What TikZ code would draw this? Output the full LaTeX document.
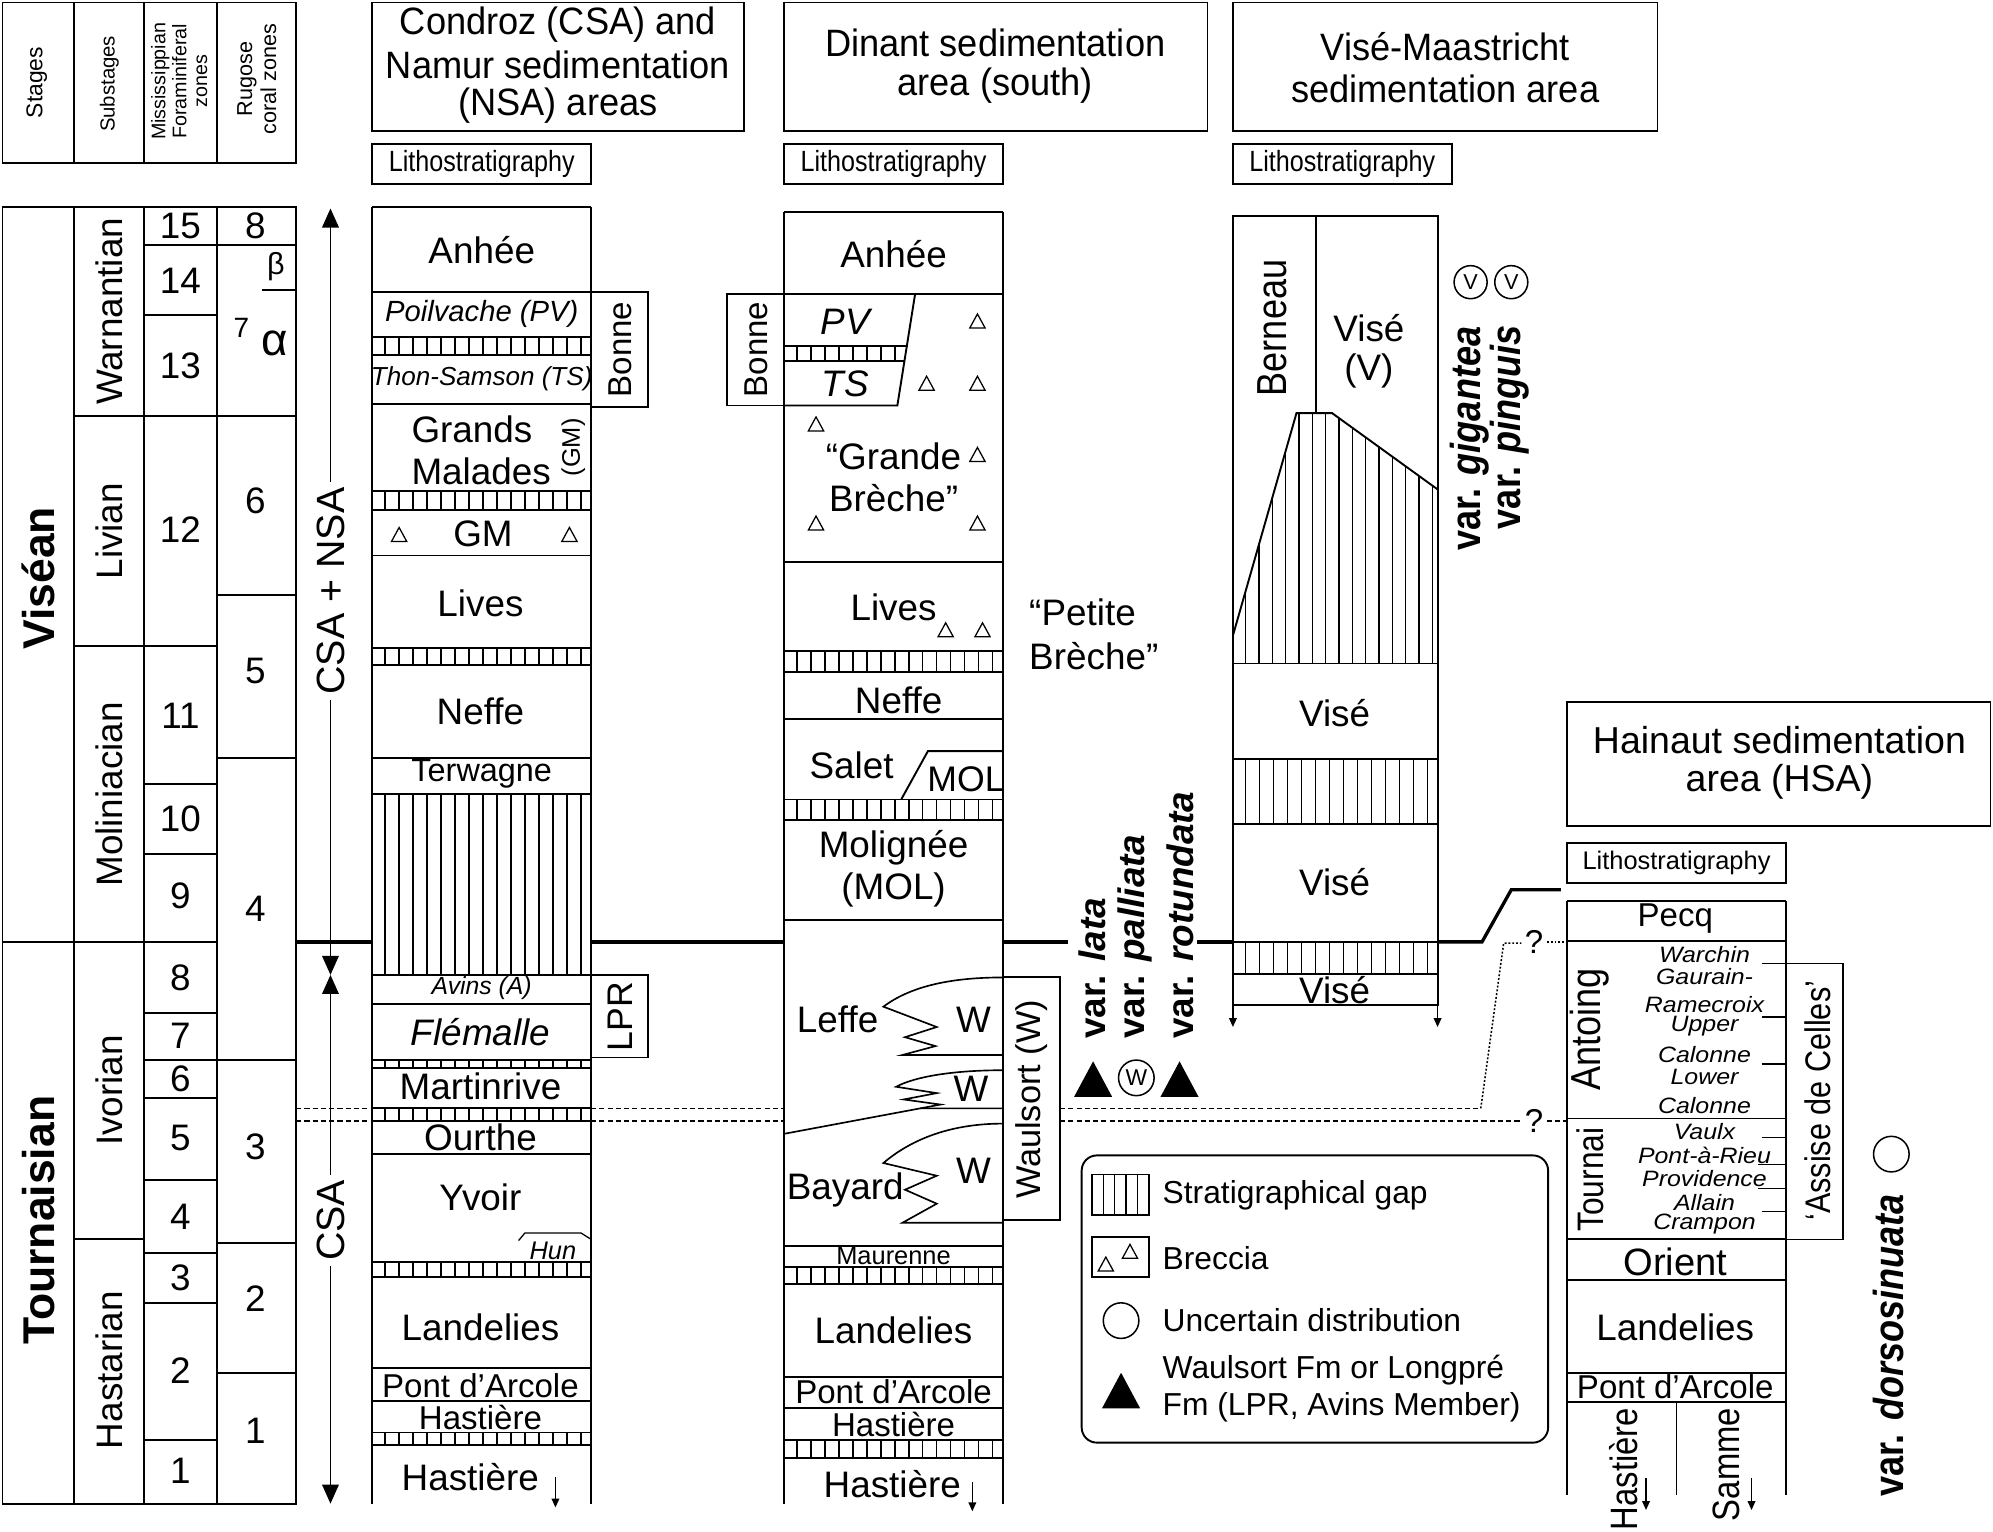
\documentclass[tikz,border=0pt]{standalone}
\usepackage{fontspec}
\setmainfont{Liberation Sans}
\newfontfamily\narrowfont[FakeStretch=0.86]{Liberation Sans}
\newfontfamily\hdrfont[FakeStretch=0.95]{Liberation Sans}
\newfontfamily\widefont[FakeStretch=1.12]{Liberation Sans}
\usetikzlibrary{arrows.meta}

\newcommand{\fsz}[1]{\fontsize{#1}{#1}\selectfont}

% hatched band = stratigraphical gap
\newcommand{\gapbox}[4]{%
  \draw (#1,#2) rectangle (#3,#4);
  \begin{scope}
    \clip (#1,#2) rectangle (#3,#4);
    \foreach \gx in {10,21,...,350} \draw[line width=1.1pt] (#1+\gx,#2) -- (#1+\gx,#4);
  \end{scope}}
% small open triangle = breccia
\newcommand{\brec}[2]{\draw[line width=1pt] (#1-6,#2+5) -- (#1+6,#2+5) -- (#1,#2-6) -- cycle;}
\newcommand{\blacktri}[2]{\fill (#1-15,#2+14) -- (#1+15,#2+14) -- (#1,#2-14) -- cycle;}

\tikzset{
  lbl/.style={inner sep=0pt, font=\fsz{29}},
  mid/.style={inner sep=0pt, font=\fsz{26}},
  sml/.style={inner sep=0pt, font=\fsz{20}},
  ital/.style={inner sep=0pt, font=\fsz{20}\itshape},
  member/.style={inner sep=0pt, font=\widefont\fsz{17.5}\itshape},
  hdr/.style={inner sep=0pt, font=\hdrfont\fsz{30}},
  litho/.style={inner sep=0pt, font=\narrowfont\fsz{23}},
  vert/.style={rotate=90, inner sep=0pt},
  varlbl/.style={rotate=90, anchor=west, inner sep=0pt, font=\bfseries\fsz{29}},
  varnar/.style={rotate=90, anchor=west, inner sep=0pt, font=\narrowfont\bfseries\fsz{33}},
  bnd/.style={line width=2.6pt},
  dsh/.style={line width=1.2pt, dash pattern=on 4pt off 2.5pt},
  dott/.style={line width=1.2pt, dash pattern=on 1.5pt off 1.5pt},
  tip/.style={-{Triangle[length=7pt,width=6pt]}, line width=1.2pt},
}

\begin{document}
\begin{tikzpicture}[x=1pt,y=-1pt,line width=1.5pt]
\useasboundingbox (0,0) rectangle (1568,1205);

% ---------- headers
\draw (2,2) rectangle (233,128);
\foreach \cx in {58,113,171} \draw (\cx,2) -- (\cx,128);
\node[vert,font=\fsz{18}] (hstage) at (29,65) {Stages};
\node[vert,font=\fsz{16}] (hsub) at (86,66) {Substages};
\node[vert,align=center,font=\fontsize{15.5}{16.5}\selectfont] (hforam) at (141,64) {Mississippian\\Foraminiferal\\zones};
\node[vert,align=center,font=\fontsize{17}{19}\selectfont] (hcoral) at (202,62) {Rugose\\coral zones};

\draw (293,2) rectangle (585,103);
\node[hdr] (hcsa1) at (439,19) {Condroz (CSA) and};
\node[hdr] (hcsa2) at (439,51) {Namur sedimentation};
\node[hdr] (hcsa3) at (439,83) {(NSA) areas};
\draw (617,2) rectangle (950,103);
\node[hdr] (hdin1) at (783,34) {Dinant sedimentation};
\node[hdr] (hdin2) at (783,67) {area (south)};
\draw (970,2) rectangle (1304,103);
\node[hdr] (hvis1) at (1137,37) {Visé-Maastricht};
\node[hdr] (hvis2) at (1137,70) {sedimentation area};
\foreach \lx in {293,617,970} {
  \draw (\lx,113) rectangle (\lx+172,145);
  \node[litho] (litho\lx) at (\lx+86,129) {Lithostratigraphy};
}

% ---------- time scale
\draw (2,163) rectangle (233,1183);
\foreach \cx in {58,113,171} \draw (\cx,163) -- (\cx,1183);
\draw (2,741) -- (58,741);
\node[vert,font=\bfseries\fsz{35}] (visean) at (30,455) {Viséan};
\node[vert,font=\bfseries\fsz{35}] (tourn) at (30,960) {Tournaisian};
\foreach \yy in {327,508,741,975} \draw (58,\yy) -- (113,\yy);
\node[lbl,vert] (warn) at (86,245) {Warnantian};
\node[lbl,vert] (liv) at (86,418) {Livian};
\node[lbl,vert] (mol) at (86,625) {Moliniacian};
\node[lbl,vert] (ivo) at (86,858) {Ivorian};
\node[lbl,vert] (has) at (86,1078) {Hastarian};
\foreach \yy in {193,248,327,508,617,672,741,797,834,864,928,986,1025,1133} \draw (113,\yy) -- (171,\yy);
\foreach \zn/\yy in {15/178,14/221,13/288,12/417,11/563,10/644,9/705,8/769,7/815,6/849,5/895,4/957,3/1005,2/1078,1/1157}
  \node[lbl] (mfz\zn) at (142,\yy) {\zn};
\foreach \yy in {193,327,468,596,834,978,1080} \draw (171,\yy) -- (233,\yy);
\draw (206,228) -- (233,228);
\node[lbl] (rcz8) at (201,178) {8};
\node[inner sep=0pt,font=\fsz{24}] (rczb) at (217,210) {β};
\node[inner sep=0pt,font=\fsz{22}] (rcz7) at (190,258) {7};
\node[inner sep=0pt,font=\fsz{36}] (rcza) at (216,270) {α};
\foreach \zn/\yy in {6/394,5/528,4/715,3/902,2/1022,1/1126}
  \node[lbl] (rcz\zn) at (201,\yy) {\zn};

% ---------- CSA arrows
\draw[{Triangle[length=15pt,width=13pt]}-{Triangle[length=15pt,width=13pt]}] (260,164) -- (260,767);
\draw[{Triangle[length=15pt,width=13pt]}-{Triangle[length=15pt,width=13pt]}] (260,767) -- (260,1183);
\node[vert,fill=white,inner sep=4pt,font=\fsz{31}] (csansa) at (260,465) {CSA + NSA};
\node[vert,fill=white,inner sep=4pt,font=\fsz{31}] (csa) at (260,960) {CSA};

% ---------- Visean / Tournaisian boundary and correlation lines
\draw[bnd] (233,741) -- (293,741);
\draw[bnd] (465,741) -- (617,741);
\draw[bnd] (789,741) -- (840,741);
\draw[bnd] (942,741) -- (970,741);
\draw[bnd] (1131,741) -- (1166,741) -- (1189,700) -- (1228,700);
\foreach \yy in {872,882} {
  \draw[dsh] (233,\yy) -- (293,\yy);
  \draw[dsh] (465,\yy) -- (617,\yy);
}
\draw[dsh] (834,872) -- (1165,872);
\draw[dott] (1165,872) -- (1183,742) -- (1197,742);
\draw[dott] (1217,741) -- (1233,741);
\draw[dsh] (834,882) -- (1197,882);
\draw[dsh] (1217,882) -- (1233,882);
\node[inner sep=0pt,font=\fsz{26}] (q1) at (1207,741) {?};
\node[inner sep=0pt,font=\fsz{26}] (q2) at (1207,882) {?};

% ---------- Condroz / Namur
\draw (293,163) -- (465,163);
\draw (293,163) -- (293,1183);
\draw (465,163) -- (465,1183);
\foreach \yy in {230,318,437,596,790,908,1076,1102} \draw (293,\yy) -- (465,\yy);
\gapbox{293}{265}{465}{279}
\gapbox{293}{386}{465}{401}
\gapbox{293}{510}{465}{523}
\gapbox{293}{625}{465}{767}
\gapbox{293}{834}{465}{840}
\gapbox{293}{872}{465}{882}
\gapbox{293}{993}{465}{1005}
\gapbox{293}{1127}{465}{1137}
\node[lbl] (anh1) at (379,197) {Anhée};
\node[inner sep=0pt,font=\fsz{23}\itshape] (pv1) at (379,247) {Poilvache (PV)};
\node[inner sep=0pt,font=\fsz{20.5}\itshape] (ts1) at (379,298) {Thon-Samson (TS)};
\node[lbl,anchor=west] (gm1a) at (323,338) {Grands};
\node[lbl,anchor=west] (gm1b) at (323,371) {Malades};
\node[vert,inner sep=0pt,font=\fsz{20}] (gm1c) at (451,352) {(GM)};
\node[lbl] (gm1) at (380,420) {GM};
\brec{314}{421} \brec{448}{421}
\node[lbl] (liv1) at (378,475) {Lives};
\node[lbl] (nef1) at (378,560) {Neffe};
\node[inner sep=0pt,font=\fsz{25.5}] (ter1) at (379,609) {Terwagne};
\node[ital,font=\fsz{19.5}\itshape] (avi1) at (379,777) {Avins (A)};
\node[lbl,font=\fsz{29}\itshape] (fle1) at (378,812) {Flémalle};
\node[lbl] (mar1) at (378,855) {Martinrive};
\node[lbl] (our1) at (378,895) {Ourthe};
\node[lbl] (yvo1) at (378,942) {Yvoir};
\draw[line width=1pt] (408,976) -- (413,970) -- (457,970) -- (465,975);
\node[ital] (hun1) at (435,984) {Hun};
\node[lbl] (lan1) at (378,1044) {Landelies};
\node[mid] (pda1) at (378,1090) {Pont d’Arcole};
\node[mid] (has1) at (378,1115) {Hastière};
\node[lbl] (has1b) at (370,1162) {Hastière};
\draw[tip] (437,1162) -- (437,1186);
\draw (465,230) rectangle (510,320);
\node[vert,mid] (bon1) at (488,275) {Bonne};
\draw (465,767) rectangle (510,832);
\node[vert,lbl,font=\fsz{28}] (lpr1) at (488,800) {LPR};

% ---------- Dinant
\draw (617,167) -- (789,167);
\draw (617,167) -- (617,1183);
\draw (789,167) -- (789,1183);
\foreach \yy in {231,442,566,724,980,1083,1108} \draw (617,\yy) -- (789,\yy);
\gapbox{617}{512}{789}{529}
\gapbox{617}{629}{789}{645}
\gapbox{617}{997}{789}{1010}
\gapbox{617}{1133}{789}{1147}
\node[lbl] (anh2) at (703,200) {Anhée};
\draw (572,231) rectangle (617,319);
\node[vert,mid] (bon2) at (595,275) {Bonne};
\draw (720,231) -- (706,319) -- (617,319);
\draw (617,272) -- (714,272);
\draw (617,284) -- (712,284);
\begin{scope}
  \clip (617,272) -- (714,272) -- (712,284) -- (617,284) -- cycle;
  \foreach \gx in {627,638,...,720} \draw[line width=1.1pt] (\gx,272) -- (\gx,284);
\end{scope}
\node[lbl,font=\fsz{29}\itshape] (pv2) at (665,253) {PV};
\node[lbl,font=\fsz{29}\itshape] (ts2) at (665,302) {TS};
\brec{769}{253} \brec{729}{302} \brec{769}{302} \brec{642}{334}
\brec{769}{358} \brec{642}{412} \brec{769}{412}
\node[lbl] (gbr1) at (703,359) {“Grande};
\node[lbl] (gbr2) at (703,392) {Brèche”};
\node[lbl] (liv2) at (703,478) {Lives};
\brec{744}{496} \brec{773}{496}
\node[lbl] (nef2) at (707,551) {Neffe};
\node[lbl] (sal2) at (670,602) {Salet};
\draw (709,629) -- (730,591) -- (789,591);
\node[inner sep=0pt,font=\fsz{28}] (mol2a) at (760,613) {MOL};
\node[lbl] (mol2b) at (703,667) {Molignée};
\node[lbl] (mol2c) at (703,700) {(MOL)};
% Waulsort tongues
\draw[line width=1.3pt] (789,769) .. controls (745,769) and (715,777) .. (695,792) -- (737,808) -- (712,816) -- (736,823) -- (710,830) -- (789,830);
\draw[line width=1.3pt] (789,842) .. controls (750,842) and (720,847) .. (705,855) -- (737,860) -- (711,865) -- (740,869) -- (724,872);
\draw[line width=1.3pt] (617,892) -- (724,872) -- (789,872);
\draw[line width=1.3pt] (789,884) .. controls (745,884) and (715,898) .. (695,915) -- (737,925) -- (712,936) -- (737,947) -- (710,962) -- (789,962);
\node[lbl] (lef2) at (659,802) {Leffe};
\node[lbl] (w2a) at (766,802) {W};
\node[lbl] (w2b) at (764,857) {W};
\node[lbl] (bay2) at (665,936) {Bayard};
\node[lbl] (w2c) at (766,921) {W};
\draw (789,769) rectangle (834,960);
\node[vert,inner sep=0pt,font=\fsz{27}] (wau2) at (812,865) {Waulsort (W)};
\node[sml] (mau2) at (703,988) {Maurenne};
\node[lbl] (lan2) at (703,1047) {Landelies};
\node[mid] (pda2) at (703,1095) {Pont d’Arcole};
\node[mid] (has2) at (703,1121) {Hastière};
\node[lbl] (has2b) at (702,1168) {Hastière};
\draw[tip] (765,1166) -- (765,1189);
\node[lbl,anchor=west] (pbr1) at (809,482) {“Petite};
\node[lbl,anchor=west] (pbr2) at (809,516) {Brèche”};

% varieties near the Waulsort Fm
\node[varlbl] (vlata) at (859,818) {var. \textit{lata}};
\node[varlbl] (vpall) at (893,818) {var. \textit{palliata}};
\node[varlbl] (vrotu) at (929,818) {var. \textit{rotundata}};
\blacktri{860}{849}
\draw[line width=1.2pt] (894,848) circle (14);
\node[inner sep=0pt,font=\fsz{18}] (wcirc) at (894,848) {W};
\blacktri{928}{849}

% ---------- Vise - Maastricht
\draw (970,170) rectangle (1131,791);
\draw (1035,170) -- (1035,325);
\node[vert,inner sep=0pt,font=\narrowfont\fsz{33}] (ber3) at (1001,258) {Berneau};
\node[lbl] (vis3a) at (1077,258) {Visé};
\node[lbl] (vis3b) at (1077,292) {(V)};
\begin{scope}
  \clip (970,500) -- (1020,325) -- (1048,325) -- (1131,385) -- (1131,522) -- (970,522) -- cycle;
  \foreach \gx in {980,990.5,...,1131} \draw[line width=1.1pt] (\gx,300) -- (\gx,530);
\end{scope}
\draw (970,500) -- (1020,325) -- (1048,325) -- (1131,385);
\draw (970,522) -- (1131,522);
\node[lbl] (vis3c) at (1050,561) {Visé};
\gapbox{970}{597}{1131}{648}
\node[lbl] (vis3d) at (1050,694) {Visé};
\gapbox{970}{741}{1131}{766}
\node[lbl] (vis3e) at (1050,779) {Visé};
\draw[tip] (970,791) -- (970,808);
\draw[tip] (1131,791) -- (1131,808);
\node[varnar] (vgig) at (1156,434) {var. \textit{gigantea}};
\node[varnar] (vpin) at (1188,417) {var. \textit{pinguis}};
\foreach \vx in {1157,1189} {
  \draw[line width=1.2pt] (\vx,222) circle (13);
  \node[inner sep=0pt,font=\fsz{17}] (vc\vx) at (\vx,222) {V};
}

% ---------- Hainaut
\draw (1233,552) rectangle (1566,650);
\node[inner sep=0pt,font=\fsz{29.5}] (hhai1) at (1400,582) {Hainaut sedimentation};
\node[inner sep=0pt,font=\fsz{29.5}] (hhai2) at (1400,615) {area (HSA)};
\draw (1233,663) rectangle (1405,695);
\node[inner sep=0pt,font=\fsz{20}] (litho4) at (1319,679) {Lithostratigraphy};
\draw (1233,709) -- (1405,709);
\draw (1233,709) -- (1233,1176);
\draw (1405,709) -- (1405,1176);
\foreach \yy in {740,880,975,1007,1080,1103} \draw (1233,\yy) -- (1405,\yy);
\draw (1319,1103) -- (1319,1176);
\node[mid] (pec4) at (1318,723) {Pecq};
\node[vert,inner sep=0pt,font=\narrowfont\fsz{33}] (ant4) at (1251,810) {Antoing};
\node[vert,inner sep=0pt,font=\narrowfont\fsz{29}] (tou4) at (1251,928) {Tournai};
\foreach \mb/\yy in {Warchin/751,Gaurain-/768,Ramecroix/790,Upper/807,Calonne/830,Lower/847,Calonne/870,Vaulx/890,Pont-à-Rieu/909,Providence/927,Allain/946,Crampon/963}
  \node[member] (mb\yy) at (1341,\yy) {\mb};
\draw[line width=1.2pt] (1386,758) -- (1450,758) -- (1450,975) -- (1405,975);
\foreach \yy in {800,837,895,953} \draw[line width=1.2pt] (1386,\yy) -- (1405,\yy);
\foreach \yy in {916,935} \draw[line width=1.2pt] (1383,\yy) -- (1405,\yy);
\node[vert,inner sep=0pt,font=\narrowfont\fsz{28}] (ass4) at (1430,866) {‘Assise de Celles’};
\node[inner sep=0pt,font=\fsz{30}] (ori4) at (1318,993) {Orient};
\node[lbl] (lan4) at (1318,1044) {Landelies};
\node[mid] (pda4) at (1318,1091) {Pont d’Arcole};
\node[vert,anchor=east,inner sep=0pt,font=\narrowfont\fsz{30}] (has4) at (1277,1107) {Hastière};
\node[vert,anchor=east,inner sep=0pt,font=\narrowfont\fsz{30}] (sam4) at (1358,1107) {Samme};
\draw[tip] (1295,1163) -- (1295,1188);
\draw[tip] (1378,1163) -- (1378,1188);
\node[varnar] (vdor) at (1486,1178) {var. \textit{dorsosinuata}};
\draw[line width=1.2pt] (1488,908) circle (14);

% ---------- legend
\draw[rounded corners=12pt] (851,909) rectangle (1218,1135);
\draw (859,924) rectangle (904,956);
\foreach \gx in {868,877,886,895} \draw[line width=1.1pt] (\gx,924) -- (\gx,956);
\draw (859,973) rectangle (904,1005);
\brec{870}{995} \brec{889}{985}
\draw[line width=1.2pt] (882,1039) circle (14);
\blacktri{882}{1094}
\node[inner sep=0pt,anchor=west,font=\fsz{25}] (lg1) at (914,940) {Stratigraphical gap};
\node[inner sep=0pt,anchor=west,font=\fsz{25}] (lg2) at (914,990) {Breccia};
\node[inner sep=0pt,anchor=west,font=\fsz{25}] (lg3) at (914,1039) {Uncertain distribution};
\node[inner sep=0pt,anchor=west,font=\fsz{25}] (lg4) at (914,1078) {Waulsort Fm or Longpré};
\node[inner sep=0pt,anchor=west,font=\fsz{25}] (lg5) at (914,1107) {Fm (LPR, Avins Member)};
\end{tikzpicture}
\end{document}
